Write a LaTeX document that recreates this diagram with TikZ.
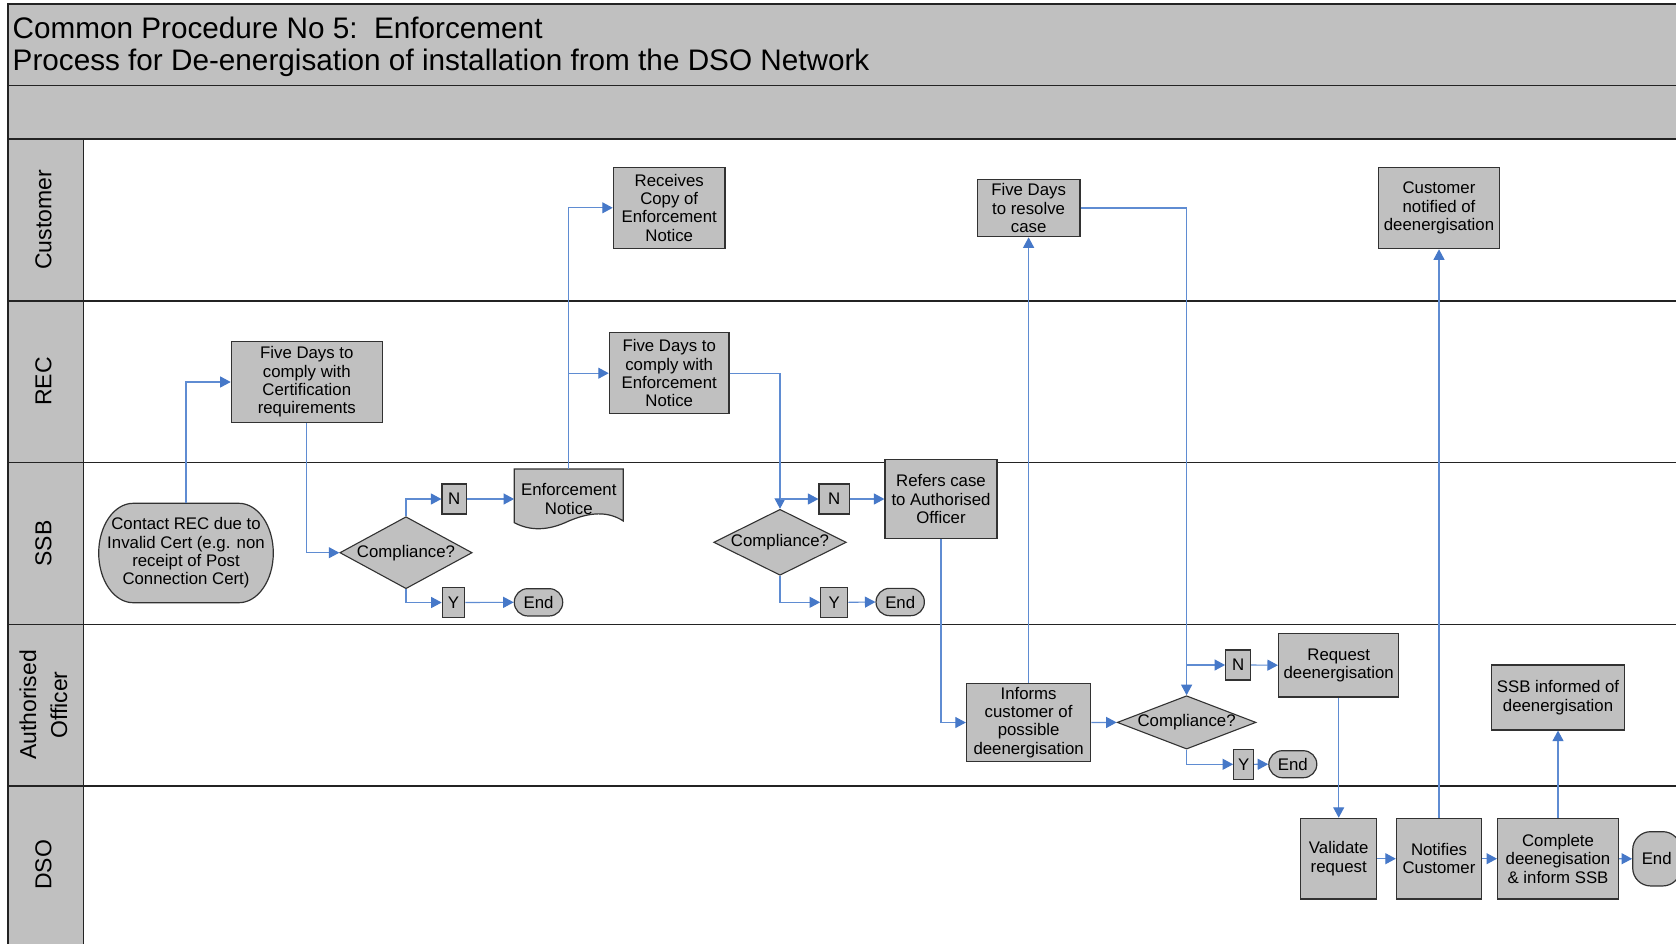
\documentclass[tikz,border=0pt]{standalone}
\usepackage{fontspec}
\setmainfont{Liberation Sans}
\usetikzlibrary{shapes.geometric,arrows.meta,calc}
\definecolor{boxgray}{RGB}{192,192,192}
\definecolor{linedark}{RGB}{35,35,35}
\definecolor{edgedark}{RGB}{50,50,50}
\definecolor{connblue}{RGB}{95,140,210}
\definecolor{arrowblue}{RGB}{70,120,200}
\newcommand{\boxfont}{\fontsize{16.8}{18.3}\selectfont}
\newcommand{\lanefont}{\fontsize{23}{31}\selectfont}
\newcommand{\titlefont}{\fontsize{29.7}{32}\selectfont}
\tikzset{
  box/.style={draw=edgedark, fill=boxgray, line width=1.2pt, align=center, inner sep=0pt, font=\boxfont},
  txt/.style={align=center, inner sep=0pt, font=\boxfont},
  term/.style={box, rounded corners=13.5pt},
  dec/.style={diamond, draw=edgedark, fill=boxgray, line width=1.1pt, inner sep=0pt, font=\boxfont},
  conn/.style={draw=connblue, line width=1.1pt, -{Triangle[length=10.5pt,width=11pt,color=arrowblue]}},
  lane/.style={draw=linedark, line width=1.5pt},
  lanelabel/.style={rotate=90, font=\lanefont, align=center, inner sep=0pt},
}
\begin{document}
\begin{tikzpicture}[x=1pt,y=-1pt]
\useasboundingbox (0,0) rectangle (1676,943);
% ---- header bars and lanes ----
\fill[white] (0,0) rectangle (1676,943);
\filldraw[fill=boxgray, lane] (8,4) rectangle (1690,85.5);
\filldraw[fill=boxgray, lane] (8,85.5) rectangle (1690,139);
\filldraw[fill=boxgray, lane] (8,139) rectangle (83.4,960);
\foreach \yy in {301,462.5,624.5,786} \draw[lane] (8,\yy) -- (1690,\yy);
\node[anchor=base west, inner sep=0pt, font=\titlefont] (title1) at (12.5,38.5) {Common Procedure No 5:\ \ Enforcement};
\node[anchor=base west, inner sep=0pt, font=\titlefont] (title2) at (12.5,70.5) {Process for De-energisation of installation from the DSO Network};
\node[lanelabel] (lcust) at (43.5,220) {Customer};
\node[lanelabel] (lrec) at (43.5,381.5) {REC};
\node[lanelabel] (lssb) at (43.5,543.5) {SSB};
\node[lanelabel] (lao) at (43.5,705) {Authorised\\Officer};
\node[lanelabel] (ldso) at (43.5,865) {DSO};
% ---- shapes drawn directly ----
\filldraw[fill=boxgray, draw=edgedark, line width=1.2pt]
  (133.2,503.3) -- (238.8,503.3)
  arc[start angle=90, end angle=-90, x radius=34.5pt, y radius=49.7pt]
  -- (133.2,602.7)
  arc[start angle=270, end angle=90, x radius=34.5pt, y radius=49.7pt] -- cycle;
\filldraw[fill=boxgray, draw=edgedark, line width=1.2pt]
  (514.3,469) -- (623.3,469) -- (623.3,521)
  .. controls (608,511) and (590,512) .. (568.8,521)
  .. controls (548,531) and (530,531) .. (514.3,522.7) -- cycle;
% ---- nodes ----
\node[txt, minimum width=174.6pt, minimum height=99.4pt] (contact) at (186,553)
  {Contact REC due to\\Invalid Cert (e.g. non\\receipt of Post\\Connection Cert)};
\node[box, minimum width=151pt, minimum height=81.4pt] (fdc) at (306.8,382)
  {Five Days to\\comply with\\Certification\\requirements};
\node[dec, minimum width=132.3pt, minimum height=72pt, aspect=1.84] (d1) at (406,552.7) {Compliance?};
\node[box, minimum width=24.3pt, minimum height=30pt] (n1) at (454.2,499) {N};
\node[box, minimum width=22.4pt, minimum height=29.6pt] (y1) at (453.5,602.5) {Y};
\node[term, minimum width=48.4pt, minimum height=27.3pt] (end1) at (538.5,602.3) {End};
\node[txt, minimum width=109pt, minimum height=60pt] (en) at (568.8,499) {Enforcement\\Notice};
\node[box, minimum width=111.7pt, minimum height=81pt] (rcv) at (669.2,207.8)
  {Receives\\Copy of\\Enforcement\\Notice};
\node[box, minimum width=119.7pt, minimum height=81pt] (fden) at (669.2,373.2)
  {Five Days to\\comply with\\Enforcement\\Notice};
\node[dec, minimum width=132.7pt, minimum height=66pt, aspect=2] (d2) at (780,542.3) {Compliance?};
\node[box, minimum width=30.3pt, minimum height=30pt] (n2) at (834.2,499) {N};
\node[box, minimum width=27pt, minimum height=30pt] (y2) at (834.2,602.3) {Y};
\node[term, minimum width=48.3pt, minimum height=27.3pt] (end2) at (900.2,602) {End};
\node[box, minimum width=112pt, minimum height=78.6pt] (refers) at (941,499)
  {Refers case\\to Authorised\\Officer};
\node[box, minimum width=102.7pt, minimum height=57.4pt] (fdr) at (1028.6,208)
  {Five Days\\to resolve\\case};
\node[box, minimum width=124.3pt, minimum height=78.4pt] (informs) at (1028.6,722.5)
  {Informs\\customer of\\possible\\deenergisation};
\node[dec, minimum width=137.6pt, minimum height=53.3pt, aspect=2.6] (d3) at (1186.6,722.4) {Compliance?};
\node[box, minimum width=24.8pt, minimum height=30pt] (n3) at (1238.1,665) {N};
\node[box, minimum width=19.8pt, minimum height=30pt] (y3) at (1243.6,764.3) {Y};
\node[term, minimum width=48pt, minimum height=27pt] (end3) at (1292.8,764.2) {End};
\node[box, minimum width=120.3pt, minimum height=63.7pt] (request) at (1338.7,665.2)
  {Request\\deenergisation};
\node[box, minimum width=76.2pt, minimum height=80.7pt] (validate) at (1338.7,858.7)
  {Validate\\request};
\node[box, minimum width=85.2pt, minimum height=80.7pt] (notifies) at (1439,858.7)
  {Notifies\\Customer};
\node[box, minimum width=120.8pt, minimum height=80.7pt] (complete) at (1558,858.7)
  {Complete\\deenegisation\\\& inform SSB};
\node[box, rounded corners=18pt, minimum width=48pt, minimum height=54.3pt] (end4) at (1656.7,858.8) {End};
\node[box, minimum width=120.3pt, minimum height=81.4pt] (custnot) at (1439,208)
  {Customer\\notified of\\deenergisation};
\node[box, minimum width=132.7pt, minimum height=65pt] (ssbinf) at (1558,697.5)
  {SSB informed of\\deenergisation};
\coordinate (j2) at (d2.north |- n2.west);
\coordinate (j3) at (d3.north |- n3.west);
% ---- connectors ----
\draw[conn] (contact.north) |- (fdc.west);
\draw[conn] (fdc.south) |- (d1.west);
\draw[conn] (d1.north) |- (n1.west);
\draw[conn] (d1.south) |- (y1.west);
\draw[conn] (n1.east) -- (en.west);
\draw[conn] (y1.east) -- (end1.west);
\draw[conn] (en.north) |- (rcv.west);
\draw[conn] (en.north) |- (fden.west);
\draw[conn] (fden.east) -| (d2.north);
\draw[conn] (j2) -- (n2.west);
\draw[conn] (n2.east) -- (refers.west);
\draw[conn] (d2.south) |- (y2.west);
\draw[conn] (y2.east) -- (end2.west);
\draw[conn] (refers.south) |- (informs.west);
\draw[conn] (informs.north) -- (fdr.south);
\draw[conn] (informs.east) -- (d3.west);
\draw[conn] (fdr.east) -| (d3.north);
\draw[conn] (j3) -- (n3.west);
\draw[conn] (n3.east) -- (request.west);
\draw[conn] (d3.south) |- (y3.west);
\draw[conn] (y3.east) -- (end3.west);
\draw[conn] (request.south) -- (validate.north);
\draw[conn] (validate.east) -- (notifies.west);
\draw[conn] (notifies.east) -- (complete.west);
\draw[conn] (complete.east) -- (end4.west);
\draw[conn] (complete.north) -- (ssbinf.south);
\draw[conn] (notifies.north) -- (custnot.south);
\end{tikzpicture}
\end{document}
